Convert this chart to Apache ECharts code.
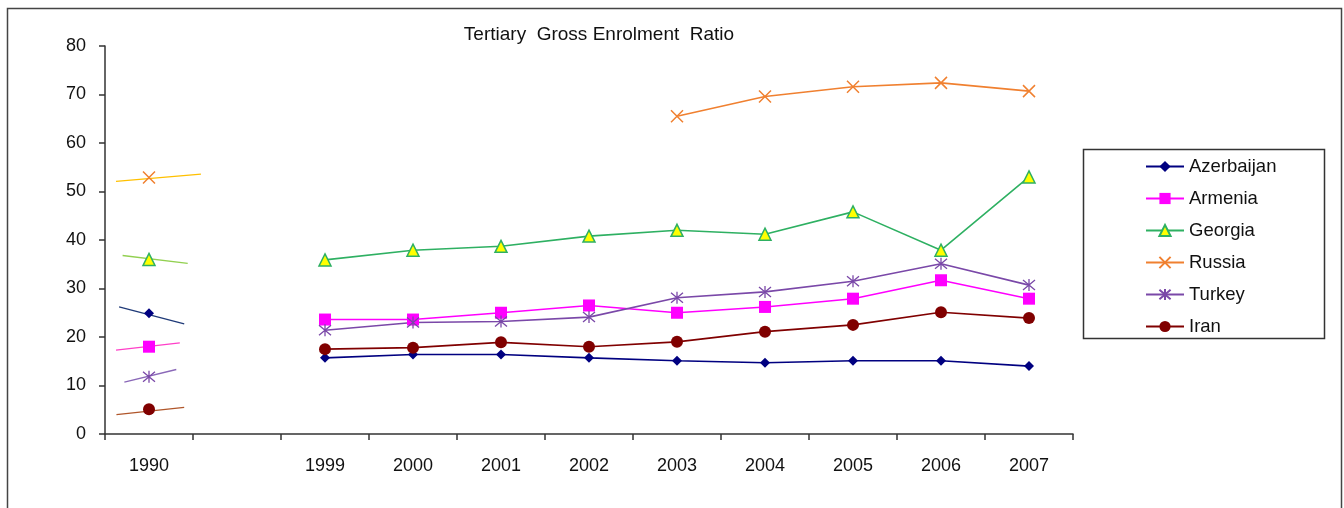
<!DOCTYPE html>
<html>
<head>
<meta charset="utf-8">
<script src="https://cdn.jsdelivr.net/npm/echarts@6/dist/echarts.min.js"></script>
<style>
  html, body { margin: 0; padding: 0; background: #fff; }
  #chart { width: 1344px; height: 508px; }
</style>
</head>
<body>
<div id="chart"></div>
<script>
// Tertiary gross enrolment ratio (%), by year
const years = ['1990', '', '1999', '2000', '2001', '2002', '2003', '2004', '2005', '2006', '2007'];

const azerbaijan = [24.9, null, 15.7, 16.4, 16.4, 15.7, 15.1, 14.7, 15.1, 15.1, 14.0];
const armenia    = [18.0, null, 23.6, 23.6, 25.0, 26.5, 25.0, 26.2, 27.9, 31.7, 27.9];
const georgia    = [36.0, null, 35.9, 37.9, 38.7, 40.8, 42.0, 41.2, 45.8, 37.9, 53.0];
const russia     = [52.9, null, null, null, null, null, 65.5, 69.6, 71.6, 72.4, 70.7];
const turkey     = [11.8, null, 21.4, 23.0, 23.2, 24.1, 28.1, 29.3, 31.5, 35.1, 30.7];
const iran       = [5.1,  null, 17.5, 17.8, 18.9, 18.0, 19.0, 21.1, 22.5, 25.1, 23.9];

// Short trend segments through the 1990 values: [yearIndex, value] pairs
const trendAzerbaijan = [[-0.34, 26.2], [0.40, 22.7]];
const trendArmenia    = [[-0.375, 17.3], [0.35, 18.8]];
const trendGeorgia    = [[-0.30, 36.8], [0.44, 35.2]];
const trendRussia     = [[-0.375, 52.1], [0.59, 53.6]];
const trendTurkey     = [[-0.28, 10.7], [0.31, 13.3]];
const trendIran       = [[-0.37, 4.0], [0.40, 5.5]];

const yTicks = [0, 10, 20, 30, 40, 50, 60, 70, 80];

const FONT = 'Liberation Sans, Arial, sans-serif';
const crossPath = 'path://M0,0L10,10M10,0L0,10';
const starPath = 'path://M0,0L10,10M10,0L0,10M5,-1L5,11';

function mainSeries(name, data, color, symbol, size, extra) {
  return Object.assign({
    name: name,
    type: 'line',
    data: data,
    connectNulls: false,
    symbol: symbol,
    symbolSize: size,
    showAllSymbol: true,
    lineStyle: { color: color, width: 1.6 },
    itemStyle: { color: color },
    z: 3
  }, extra || {});
}

function trendSeries(data, color) {
  return {
    type: 'line',
    xAxisIndex: 1,
    data: data,
    symbol: 'none',
    silent: true,
    lineStyle: { color: color, width: 1.3 },
    z: 2
  };
}

const chart = echarts.init(document.getElementById('chart'), null, { renderer: 'canvas' });

chart.setOption({
  animation: false,
  backgroundColor: '#fff',
  textStyle: { fontFamily: FONT },
  title: {
    text: 'Tertiary  Gross Enrolment  Ratio',
    left: 594,
    textAlign: 'center',
    top: 20,
    textStyle: { fontFamily: FONT, fontSize: 19, fontWeight: 'normal', color: '#111' }
  },
  grid: { left: 105, right: 271, top: 46, bottom: 74, containLabel: false },
  xAxis: [{
    type: 'category',
    data: years,
    boundaryGap: true,
    axisLine: { onZero: false, lineStyle: { color: '#333', width: 1.5 } },
    axisTick: { show: true, length: 6, lineStyle: { color: '#333', width: 1.5 }, alignWithLabel: false, interval: 0 },
    axisLabel: { interval: 0, margin: 23, fontSize: 18, color: '#111', fontFamily: FONT },
    splitLine: { show: false }
  }, {
    type: 'value',
    min: -0.5,
    max: years.length - 0.5,
    show: false
  }],
  yAxis: {
    type: 'value',
    min: yTicks[0],
    max: yTicks[yTicks.length - 1],
    interval: 10,
    axisLine: { show: true, onZero: false, lineStyle: { color: '#333', width: 1.5 } },
    axisTick: { show: true, length: 6, lineStyle: { color: '#333', width: 1.5 } },
    axisLabel: { margin: 19, fontSize: 18, color: '#111', fontFamily: FONT },
    splitLine: { show: false }
  },
  legend: {
    orient: 'vertical',
    left: 1140,
    top: 152,
    itemWidth: 38,
    itemHeight: 14,
    itemGap: 13,
    textStyle: { fontFamily: FONT, fontSize: 18.5, color: '#111', lineHeight: 18 },
    data: ['Azerbaijan', 'Armenia', 'Georgia', 'Russia', 'Turkey', 'Iran']
  },
  graphic: [
    {
      type: 'rect',
      shape: { x: 7.5, y: 8.5, width: 1334, height: 530 },
      style: { fill: 'none', stroke: '#444', lineWidth: 1.5 },
      silent: true, z: -1
    },
    {
      type: 'rect',
      shape: { x: 1083.5, y: 149.5, width: 241, height: 189 },
      style: { fill: 'none', stroke: '#333', lineWidth: 1.5 },
      silent: true
    }
  ],
  series: [
    trendSeries(trendAzerbaijan, '#1f3a78'),
    trendSeries(trendArmenia, '#ff3fc8'),
    trendSeries(trendGeorgia, '#92d050'),
    trendSeries(trendRussia, '#ffc000'),
    trendSeries(trendTurkey, '#8a68b8'),
    trendSeries(trendIran, '#b0562a'),
    mainSeries('Azerbaijan', azerbaijan, '#000080', 'diamond', 10),
    mainSeries('Armenia', armenia, '#ff00ff', 'rect', 12),
    mainSeries('Georgia', georgia, '#2eb062', 'triangle', 12, {
      itemStyle: { color: '#ffff00', borderColor: '#2eb062', borderWidth: 1.5 }
    }),
    mainSeries('Russia', russia, '#f08030', crossPath, 12, {
      itemStyle: { color: 'none', borderColor: '#f08030', borderWidth: 1.5 }
    }),
    mainSeries('Turkey', turkey, '#7a48a8', starPath, 12, {
      itemStyle: { color: 'none', borderColor: '#7a48a8', borderWidth: 1.3 }
    }),
    mainSeries('Iran', iran, '#800000', 'circle', 12)
  ]
});
</script>
</body>
</html>
